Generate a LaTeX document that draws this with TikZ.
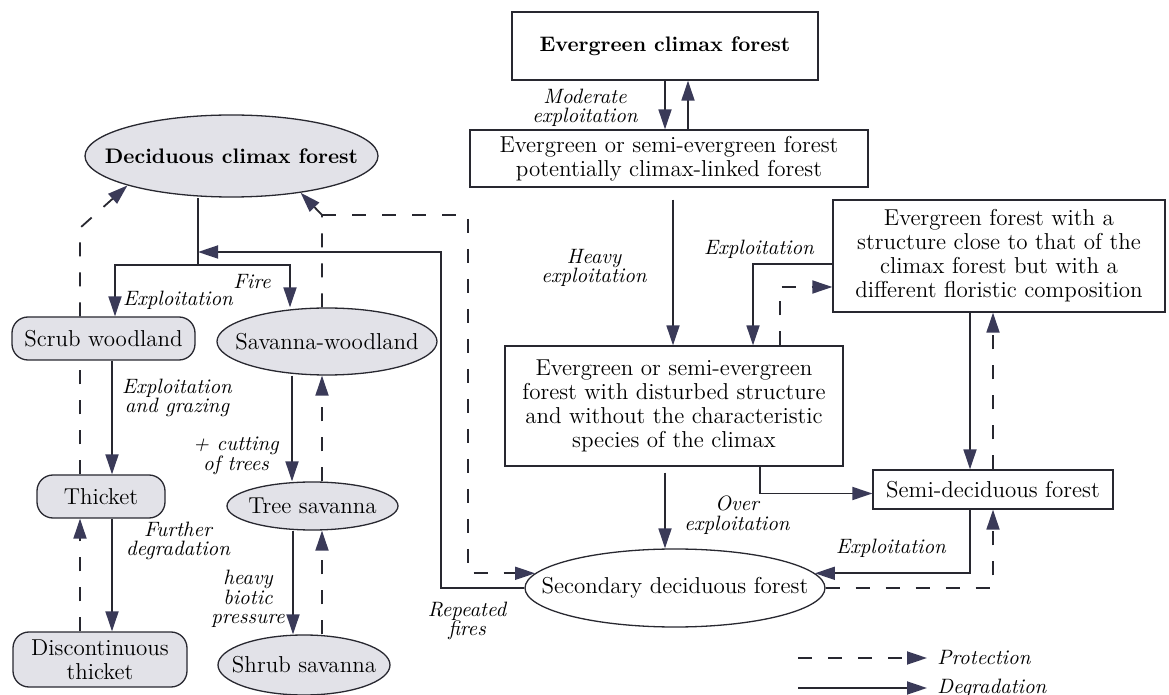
\documentclass[tikz,border=0pt]{standalone}
\usetikzlibrary{arrows.meta,shapes.geometric,calc}
\definecolor{ink}{RGB}{40,40,48}
\definecolor{headc}{RGB}{58,58,88}
\definecolor{shade}{RGB}{226,226,232}

\begin{document}
\begin{tikzpicture}[x=0.5pt,y=-0.5pt,
    font=\fontsize{11.5}{12}\selectfont,
    box/.style={draw=ink,line width=0.65pt,fill=white,align=center,inner sep=0pt},
    oval/.style={ellipse,draw=ink,line width=0.65pt,fill=shade,align=center,inner xsep=-40pt,inner ysep=-10pt},
    pill/.style={rounded corners=8pt,draw=ink,line width=0.65pt,fill=shade,align=center,inner sep=0pt},
    lab/.style={font=\fontsize{10.4}{9.8}\selectfont\itshape,align=center,inner sep=0pt},
    link/.style={draw=ink,line width=0.9pt},
    plink/.style={link,dash pattern=on 7pt off 8pt},
    deg/.style={link,-{Triangle[length=10pt,width=6.5pt,color=headc]}},
    prot/.style={deg,dash pattern=on 7pt off 8pt}]
  \useasboundingbox (0,0) rectangle (1169,695);

  % evergreen side
  \node[box,font=\fontsize{10.5}{12}\selectfont\bfseries,minimum width=153pt,minimum height=34pt] (clim) at (665,46) {Evergreen climax forest};
  \node[box,minimum width=199pt,minimum height=28.5pt] (pot) at (669,158.5) {Evergreen or semi-evergreen forest\\potentially climax-linked forest};
  \node[box,minimum width=166pt,minimum height=56pt] (struc) at (999,256) {Evergreen forest with a\\structure close to that of the\\climax forest but with a\\different floristic composition};
  \node[box,minimum width=169pt,minimum height=60pt] (dist) at (674,406) {Evergreen or semi-evergreen\\forest with disturbed structure\\and without the characteristic\\species of the climax};
  \node[box,minimum width=120pt,minimum height=19.5pt] (semi) at (993,489.5) {Semi-deciduous forest};
  \node[oval,fill=white,minimum width=150pt,minimum height=39pt] (sec) at (675,588) {Secondary deciduous forest};

  % deciduous side
  \node[oval,font=\fontsize{10.5}{12}\selectfont\bfseries,minimum width=146.5pt,minimum height=41pt] (dcl) at (231.5,156) {Deciduous climax forest};
  \node[pill,minimum width=91.5pt,minimum height=21.5pt] (scrub) at (103.5,338.5) {Scrub woodland};
  \node[oval,minimum width=110pt,minimum height=33.5pt] (savw) at (327,341.5) {Savanna-woodland};
  \node[pill,minimum width=64pt,minimum height=21.5pt] (thick) at (101,496.5) {Thicket};
  \node[oval,minimum width=85.5pt,minimum height=24pt] (tree) at (312.5,506) {Tree savanna};
  \node[pill,minimum width=87pt,minimum height=27.5pt] (disc) at (100,659.5) {Discontinuous\\thicket};
  \node[oval,minimum width=86pt,minimum height=30pt] (shrub) at (304,665) {Shrub savanna};

  \coordinate (fork) at (198,265);
  \coordinate (rf) at (441,252);
  \coordinate (pk) at (322,215);
  \coordinate (pr) at (468,215);
  \coordinate (tk) at (80,228);
  \coordinate (lg) at (798,658);

  \draw[link] (fork) -- (fork |- dcl.south);
  \draw[deg] (fork) -| ($(scrub.north)+(11.5,0)$);
  \draw[deg] (fork) -| ($(savw.north)+(-37,0)$);
  \draw[deg] (sec.west) -| (rf) -- (rf -| fork);
  \draw[prot] ($(savw.north)+(-5,0)$) -- (pk) -- (dcl.-28);
  \draw[prot] (pk) -- (pr) |- (sec.174);
  \draw[plink] ($(thick.north)+(-21,0)$) coordinate (t1) -- (t1 |- scrub.south);
  \draw[prot] ($(scrub.north)+(-23.5,0)$) -- (tk) -- (dcl.south west);

  \draw[deg] ($(scrub.south)+(8.5,0)$) coordinate (s1) -- (s1 |- thick.north);
  \draw[deg] ($(thick.south)+(11,0)$) coordinate (s2) -- (s2 |- disc.north);
  \draw[prot] ($(disc.north)+(-20,0)$) coordinate (s3) -- (s3 |- thick.south);
  \draw[deg] ($(savw.south)+(-35,0)$) coordinate (v1) -- (v1 |- tree.north);
  \draw[prot] ($(tree.north)+(9.5,0)$) coordinate (v2) -- (v2 |- savw.south);
  \draw[deg] ($(tree.south)+(-19.5,0)$) coordinate (v3) -- (v3 |- shrub.north);
  \draw[prot] ($(shrub.north)+(18,0)$) coordinate (v4) -- (v4 |- tree.south);

  \draw[deg] (clim.south) -- (clim.south |- pot.north);
  \draw[deg] ($(pot.north)+(19,0)$) coordinate (c1) -- (c1 |- clim.south);
  \draw[deg,shorten <=6pt] ($(pot.south)+(4,0)$) coordinate (c2) -- (c2 |- dist.north);
  \draw[deg] ($(struc.west)+(0,8)$) -| ($(dist.north)+(79,0)$);
  \draw[prot] ($(dist.north)+(106,0)$) |- ($(struc.west)+(0,31)$);
  \draw[deg] ($(struc.south)+(-29,0)$) coordinate (c3) -- (c3 |- semi.north);
  \draw[prot] (semi.north) -- (semi.north |- struc.south);
  \draw[deg] ($(dist.south)+(86,0)$) |- ($(semi.west)+(0,4)$);
  \draw[deg,shorten <=3pt] ($(dist.south)+(-9,0)$) coordinate (c4) -- (c4 |- sec.north);
  \draw[deg] ($(semi.south)+(-23,0)$) |- (sec.6);
  \draw[prot] (sec.east) -| (semi.south);

  % labels
  \node[lab] (modl) at (585,108) {Moderate\\exploitation};
  \node[lab] (heavyl) at (594,268) {Heavy\\exploitation};
  \node[lab] (explA) at (759,249) {Exploitation};
  \node[lab] (overl) at (737,515) {Over\\exploitation};
  \node[lab] (explB) at (891,548) {Exploitation};
  \node[lab] (firesl) at (467,621) {Repeated\\fires};
  \node[lab] (firel) at (252,282) {Fire};
  \node[lab] (explC) at (178,300) {Exploitation};
  \node[lab] (grazel) at (177,398) {Exploitation\\and grazing};
  \node[lab] (cutl) at (236,456) {+ cutting\\of trees};
  \node[lab] (furtherl) at (178,541) {Further\\degradation};
  \node[lab] (bioticl) at (248,599) {heavy\\biotic\\pressure};

  % legend
  \node[lab,inner xsep=5pt,anchor=west] (protl) at (927,658) {Protection};
  \node[lab,inner xsep=5pt,anchor=west] (degl) at (927,688) {Degradation};
  \draw[prot] (lg) -- (protl.west);
  \draw[deg] (lg |- degl.west) -- (degl.west);
\end{tikzpicture}
\end{document}
